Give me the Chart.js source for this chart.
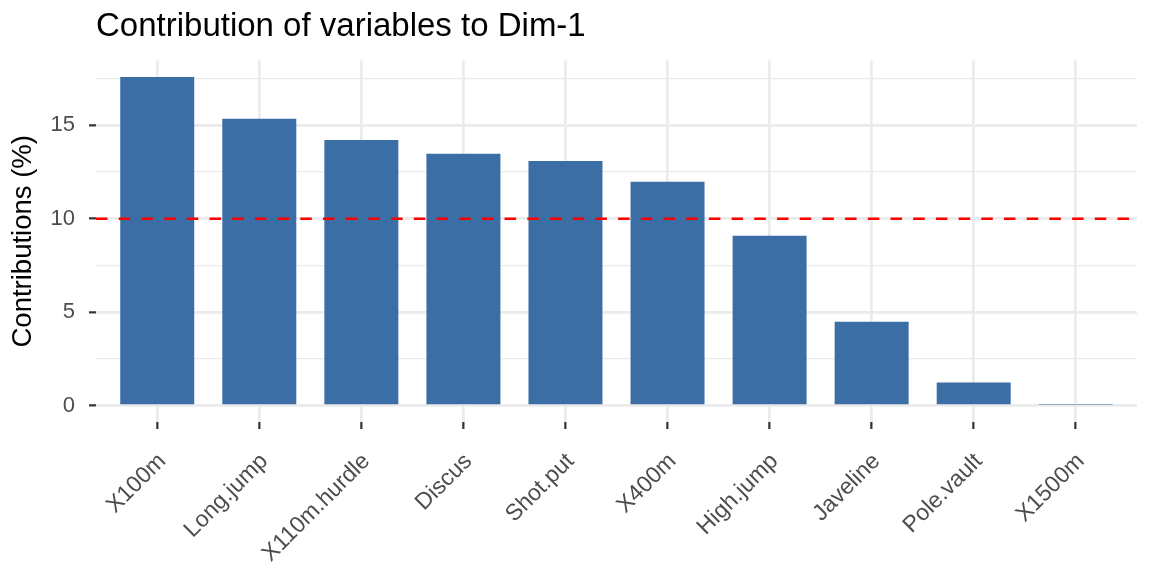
<!DOCTYPE html>
<html>
<head>
<meta charset="utf-8">
<script src="https://cdn.jsdelivr.net/npm/chart.js@4/dist/chart.umd.min.js"></script>
<style>
  html, body { margin: 0; padding: 0; background: #ffffff; }
  #wrap { width: 1152px; height: 576px; position: relative; }
</style>
</head>
<body>
<div id="wrap"><canvas id="c" width="1152" height="576"></canvas></div>
<script>
// ---- data ----
const categories = ["X100m", "Long.jump", "X110m.hurdle", "Discus", "Shot.put",
                    "X400m", "High.jump", "Javeline", "Pole.vault", "X1500m"];
const contributions = [17.59, 15.35, 14.22, 13.48, 13.10, 11.98, 9.09, 4.49, 1.23, 0.05];
const yTickValues = [0, 2.5, 5, 7.5, 10, 12.5, 15, 17.5];
const yLabelValues = [0, 5, 10, 15];
const referenceLevel = 10;
const titleText = "Contribution of variables to Dim-1";
const yAxisTitle = "Contributions (%)";

// ---- derived ----
const dataMax = Math.max(...contributions);
const yMin = -0.05 * dataMax;
const yMax = 1.05 * dataMax;
const xMin = -0.6;
const xMax = categories.length - 1 + 0.6;
const barPoints = contributions.map((v, i) => ({ x: i, y: v }));
const refPoints = [{ x: xMin, y: referenceLevel }, { x: xMax, y: referenceLevel }];

const FONT = "'Liberation Sans', Arial, Helvetica, sans-serif";
const GRID = '#EBEBEB';

const isMajorY = v => yLabelValues.includes(v);

new Chart(document.getElementById('c'), {
  type: 'bar',
  data: {
    datasets: [
      {
        type: 'line',
        data: refPoints,
        borderColor: '#FF0000',
        borderWidth: 2.4,
        borderDash: [11.5, 11.2],
        pointRadius: 0,
        fill: false,
        order: 0
      },
      {
        type: 'bar',
        data: barPoints,
        backgroundColor: '#3A6EA5',
        borderColor: '#3A6EA5',
        borderWidth: 0,
        barPercentage: 0.725,
        categoryPercentage: 1.0,
        order: 1
      }
    ]
  },
  options: {
    responsive: false,
    animation: false,
    devicePixelRatio: 1,
    layout: { padding: { top: 0, left: 0, right: 15, bottom: 0 } },
    plugins: {
      legend: { display: false },
      tooltip: { enabled: false },
      title: {
        display: true,
        text: titleText,
        align: 'start',
        fullSize: false,
        color: '#000000',
        font: { family: FONT, size: 33, weight: 'normal' },
        padding: { top: 7, bottom: 14 }
      }
    },
    scales: {
      x: {
        type: 'linear',
        offset: false,
        min: xMin,
        max: xMax,
        afterBuildTicks: s => { s.ticks = categories.map((_, i) => ({ value: i })); },
        afterFit: s => { s.height = 154; },
        border: { display: false },
        grid: {
          offset: false,
          color: GRID,
          lineWidth: 2.7,
          drawTicks: true,
          tickLength: 7,
          tickColor: '#333333',
          tickWidth: 2.2
        },
        ticks: {
          autoSkip: false,
          maxRotation: 45,
          minRotation: 45,
          padding: 19,
          labelOffset: 5,
          color: '#4D4D4D',
          font: { family: FONT, size: 23 },
          callback: v => categories[v]
        }
      },
      y: {
        min: yMin,
        max: yMax,
        afterBuildTicks: s => { s.ticks = yTickValues.map(v => ({ value: v })); },
        afterFit: s => { s.width = 96; },
        border: { display: false },
        grid: {
          color: GRID,
          lineWidth: ctx => (ctx.tick && isMajorY(ctx.tick.value)) ? 2.7 : 1.35,
          drawTicks: true,
          tickLength: 7,
          tickColor: ctx => (ctx.tick && isMajorY(ctx.tick.value)) ? '#333333' : 'rgba(0,0,0,0)',
          tickWidth: 2.2
        },
        ticks: {
          padding: 14,
          color: '#4D4D4D',
          font: { family: FONT, size: 22 },
          callback: v => isMajorY(v) ? String(v) : ''
        },
        title: {
          display: true,
          text: yAxisTitle,
          color: '#000000',
          font: { family: FONT, size: 27.5 },
          padding: { top: 7, bottom: 0 }
        }
      }
    }
  }
});
</script>
</body>
</html>
